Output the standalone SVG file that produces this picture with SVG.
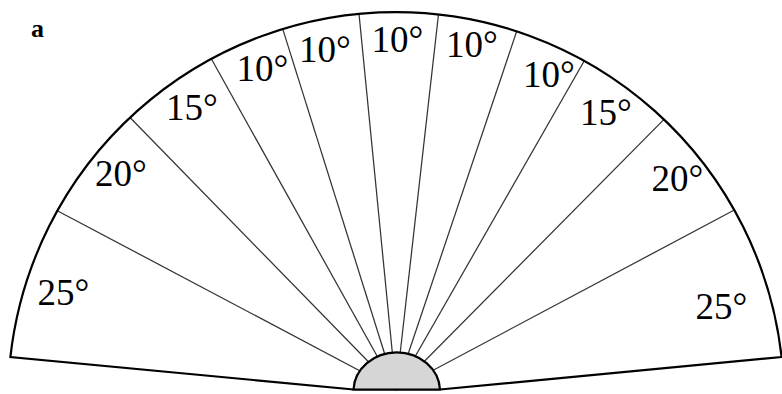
<svg xmlns="http://www.w3.org/2000/svg" width="782" height="394" viewBox="0 0 782 394">
  <style>
    .outline { fill: none; stroke: #000; stroke-width: 2.2; stroke-linejoin: miter; }
    .div { stroke: #333; stroke-width: 1.25; fill: none; }
    .lbl { font-family: "Liberation Serif", "DejaVu Serif", serif; font-size: 37px; fill: #000; text-anchor: middle; }
    .tag { font-family: "Liberation Serif", "DejaVu Serif", serif; font-size: 26px; font-weight: bold; fill: #000; }
  </style>
  <rect x="0" y="0" width="782" height="394" fill="#fff"/>
  <g id="fan">
    <path d="M 10.4 357 A 388 388 0 0 1 781.6 357 L 440 389.5 L 353.5 389.5 Z" fill="#fff" stroke="none"/>
  </g>
  <g id="dividers">
    <line class="div" x1="57.3" y1="210.7" x2="396" y2="390"/>
    <line class="div" x1="130" y1="117.5" x2="396" y2="390"/>
    <line class="div" x1="211.3" y1="58.8" x2="396" y2="390"/>
    <line class="div" x1="282.7" y1="28.9" x2="396" y2="390"/>
    <line class="div" x1="359" y1="13.8" x2="396" y2="390"/>
    <line class="div" x1="438.5" y1="14.3" x2="396" y2="390"/>
    <line class="div" x1="516.7" y1="31.3" x2="396" y2="390"/>
    <line class="div" x1="584.3" y1="60.8" x2="396" y2="390"/>
    <line class="div" x1="664" y1="119.4" x2="396" y2="390"/>
    <line class="div" x1="734.3" y1="210" x2="396" y2="390"/>
  </g>
  <g id="fan-outline">
    <path class="outline" d="M 10.4 357 A 388 388 0 0 1 781.6 357 L 440 389.5 L 353.5 389.5 Z"/>
  </g>
  <g id="hub">
    <path d="M 353.5 389.5 A 43.3 39 0 0 1 440 389.5 Z" fill="#d6d6d6" stroke="#000" stroke-width="2.2"/>
  </g>
  <g id="labels">
    <text class="lbl" x="63.5" y="305">25°</text>
    <text class="lbl" x="121" y="186">20°</text>
    <text class="lbl" x="192" y="120">15°</text>
    <text class="lbl" x="262.5" y="81">10°</text>
    <text class="lbl" x="325" y="62">10°</text>
    <text class="lbl" x="397.5" y="52">10°</text>
    <text class="lbl" x="472" y="57">10°</text>
    <text class="lbl" x="549" y="87">10°</text>
    <text class="lbl" x="606" y="125">15°</text>
    <text class="lbl" x="677.5" y="191">20°</text>
    <text class="lbl" x="721.5" y="319">25°</text>
  </g>
  <g id="panel-tag">
    <text class="tag" x="31" y="37">a</text>
  </g>
</svg>
